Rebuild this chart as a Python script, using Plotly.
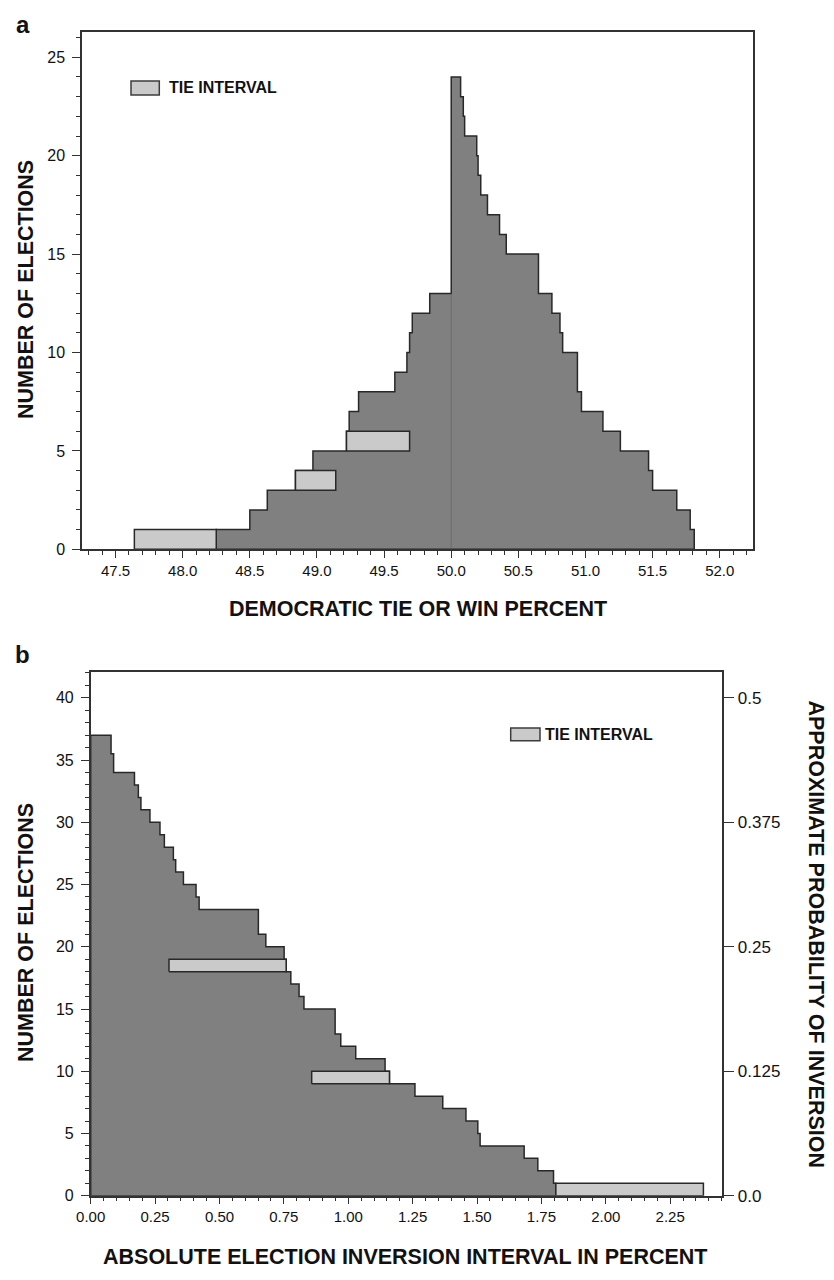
import plotly.graph_objects as go

# panel a: democratic tie or win percent, step edges and counts between edges
a_edges = [48.25, 48.50, 48.63, 48.84, 48.97, 49.22, 49.24, 49.31, 49.58, 49.67, 49.69, 49.71, 49.84,
           50.00, 50.07, 50.09, 50.10, 50.19, 50.20, 50.22, 50.27, 50.36, 50.41,
           50.65, 50.75, 50.81, 50.83, 50.94, 50.97, 51.13, 51.26, 51.47, 51.50, 51.68, 51.78, 51.81]
a_counts = [1, 2, 3, 4, 5, 6, 7, 8, 9, 10, 11, 12, 13,
            24, 23, 22, 21, 20, 19, 18, 17, 16, 15,
            13, 12, 11, 10, 8, 7, 6, 5, 4, 3, 2, 1]
a_tie_lo = [47.64, 48.84, 49.22]
a_tie_hi = [48.25, 49.14, 49.69]
a_tie_base = [0, 3, 5]

# panel b: absolute election inversion interval
b_edges = [0.000, 0.079, 0.089, 0.170, 0.185, 0.195, 0.230, 0.269, 0.286, 0.321, 0.330, 0.360, 0.409,
           0.421, 0.651, 0.680, 0.751, 0.759, 0.777, 0.809, 0.828, 0.949, 0.971, 1.029, 1.143,
           1.160, 1.259, 1.367, 1.457, 1.503, 1.512, 1.683, 1.736, 1.797, 1.806]
b_counts = [37, 35.5, 34, 33, 32, 31, 30, 29, 28, 27, 26, 25,
            24, 23, 21, 20, 19, 18, 17, 16, 15, 13, 12, 11,
            10, 9, 8, 7, 6, 5, 4, 3, 2, 1]
b_tie_lo = [0.304, 0.858, 1.806]
b_tie_hi = [0.759, 1.160, 2.379]
b_tie_base = [18, 9, 0]

prob_ticks = [0.0, 0.125, 0.25, 0.375, 0.5]
prob_labels = ["0.0", "0.125", "0.25", "0.375", "0.5"]
elections_per_prob = 80

DARK = "rgb(128,128,128)"
LIGHT = "rgb(202,202,202)"
EDGE = "rgb(40,40,40)"
FONT = "Liberation Sans, Arial, sans-serif"


def step_polygon(edges, counts):
    xs = [edges[0]]
    ys = [0]
    for i, c in enumerate(counts):
        xs += [edges[i], edges[i + 1]]
        ys += [c, c]
    xs += [edges[-1], edges[0]]
    ys += [0, 0]
    return xs, ys


def tie_boxes(lo, hi, base):
    xs, ys = [], []
    for l, h, b in zip(lo, hi, base):
        xs += [l, h, h, l, l, None]
        ys += [b, b, b + 1, b + 1, b, None]
    return xs, ys


fig = go.Figure()

ax, ay = step_polygon(a_edges, a_counts)
fig.add_trace(go.Scatter(x=ax, y=ay, fill="toself", fillcolor=DARK, mode="lines",
                         line=dict(color=EDGE, width=1.5), xaxis="x", yaxis="y",
                         showlegend=False, hoverinfo="skip"))
split = a_counts.index(max(a_counts))
fig.add_trace(go.Scatter(x=[a_edges[split], a_edges[split]], y=[0, a_counts[split - 1]],
                         mode="lines", line=dict(color="rgba(95,95,95,0.6)", width=1),
                         xaxis="x", yaxis="y", showlegend=False, hoverinfo="skip"))
tx, ty = tie_boxes(a_tie_lo, a_tie_hi, a_tie_base)
fig.add_trace(go.Scatter(x=tx, y=ty, fill="toself", fillcolor=LIGHT, mode="lines",
                         line=dict(color=EDGE, width=1.5), xaxis="x", yaxis="y",
                         showlegend=False, hoverinfo="skip"))

bx, by = step_polygon(b_edges, b_counts)
fig.add_trace(go.Scatter(x=bx, y=by, fill="toself", fillcolor=DARK, mode="lines",
                         line=dict(color=EDGE, width=1.5), xaxis="x2", yaxis="y2",
                         showlegend=False, hoverinfo="skip"))
tx, ty = tie_boxes(b_tie_lo, b_tie_hi, b_tie_base)
fig.add_trace(go.Scatter(x=tx, y=ty, fill="toself", fillcolor=LIGHT, mode="lines",
                         line=dict(color=EDGE, width=1.5), xaxis="x2", yaxis="y2",
                         showlegend=False, hoverinfo="skip"))
# invisible trace so the probability axis is drawn
fig.add_trace(go.Scatter(x=[0, 0], y=[prob_ticks[0], prob_ticks[-1]], mode="markers",
                         marker=dict(opacity=0), xaxis="x2", yaxis="y3",
                         showlegend=False, hoverinfo="skip"))

W, H = 834, 1280
axis_common = dict(showline=True, linecolor="rgb(50,50,50)", linewidth=1.5, showgrid=False,
                   zeroline=False, ticks="outside", tickcolor="rgb(50,50,50)", tickwidth=1.3,
                   automargin=False,
                   tickfont=dict(family=FONT, size=15, color="#111"))

fig.update_layout(
    width=W, height=H,
    margin=dict(l=0, r=0, t=0, b=0),
    paper_bgcolor="white", plot_bgcolor="white",
    showlegend=False,
    xaxis=dict(axis_common, domain=[82 / W, 753.3 / W], range=[47.25, 52.25], anchor="y",
               tick0=47.5, dtick=0.5, tickformat=".1f", ticklen=7, mirror=True,
               minor=dict(dtick=0.1, ticklen=4, ticks="outside", tickcolor="rgb(50,50,50)")),
    yaxis=dict(axis_common, domain=[1 - 549.3 / H, 1 - 31.7 / H], range=[0, 26.3], anchor="x",
               dtick=5, ticklen=8, mirror=True, ticklabelstandoff=4,
               tickfont=dict(family=FONT, size=16, color="#111"),
               minor=dict(dtick=1, ticklen=4, ticks="outside", tickcolor="rgb(50,50,50)")),
    xaxis2=dict(axis_common, domain=[90.7 / W, 721.7 / W], range=[0, 2.45], anchor="y2",
                tick0=0, dtick=0.25, tickformat=".2f", ticklen=7, mirror=True,
                minor=dict(dtick=0.05, ticklen=4, ticks="outside", tickcolor="rgb(50,50,50)")),
    yaxis2=dict(axis_common, domain=[1 - 1195.7 / H, 1 - 671.7 / H], range=[0, 42.1], anchor="x2",
                dtick=5, ticklen=8, ticklabelstandoff=4,
                tickfont=dict(family=FONT, size=16, color="#111"),
                minor=dict(dtick=1, ticklen=4, ticks="outside", tickcolor="rgb(50,50,50)")),
    yaxis3=dict(axis_common, overlaying="y2", side="right", anchor="x2",
                range=[0, 42.1 / elections_per_prob], tickvals=prob_ticks, ticktext=prob_labels,
                ticklen=11, tickfont=dict(family=FONT, size=17, color="#111")),
)

bold = dict(family=FONT, size=21.5, color="#111")
annots = [
    dict(text="<b>a</b>", x=23 / W, y=1 - 24 / H, font=dict(family=FONT, size=24, color="#111")),
    dict(text="<b>b</b>", x=22 / W, y=1 - 654 / H, font=dict(family=FONT, size=24, color="#111")),
    dict(text="<b>DEMOCRATIC TIE OR WIN PERCENT</b>", x=417.5 / W, y=1 - 609 / H, font=bold),
    dict(text="<b>NUMBER OF ELECTIONS</b>", x=26 / W, y=1 - 290 / H, font=bold, textangle=-90),
    dict(text="<b>ABSOLUTE ELECTION INVERSION INTERVAL IN PERCENT</b>", x=405 / W, y=1 - 1257 / H,
         font=bold),
    dict(text="<b>NUMBER OF ELECTIONS</b>", x=26 / W, y=1 - 933 / H, font=bold, textangle=-90),
    dict(text="<b>APPROXIMATE PROBABILITY OF INVERSION</b>", x=816 / W, y=1 - 933.5 / H,
         font=bold, textangle=90),
]
for a in annots:
    fig.add_annotation(xref="paper", yref="paper", showarrow=False, xanchor="center",
                       yanchor="middle", **a)

# legend swatches
legend_font = dict(family=FONT, size=16, color="#111")
for (x0, x1, y0, y1, tx_) in [(131, 159.3, 81, 95, 167), (510.7, 540, 728, 740.7, 543)]:
    fig.add_shape(type="rect", xref="paper", yref="paper", x0=x0 / W, x1=x1 / W,
                  y0=1 - y1 / H, y1=1 - y0 / H, fillcolor=LIGHT,
                  line=dict(color="rgb(60,60,60)", width=1.5))
    fig.add_annotation(xref="paper", yref="paper", showarrow=False, xanchor="left",
                       yanchor="middle", x=tx_ / W, y=1 - (y0 + y1) / 2 / H,
                       text="<b>TIE INTERVAL</b>", font=legend_font)

# drop the default page margin so the figure sits at the window origin
fig.write_html("out.html", config={"displayModeBar": False},
               post_script="document.body.style.margin='0';")
